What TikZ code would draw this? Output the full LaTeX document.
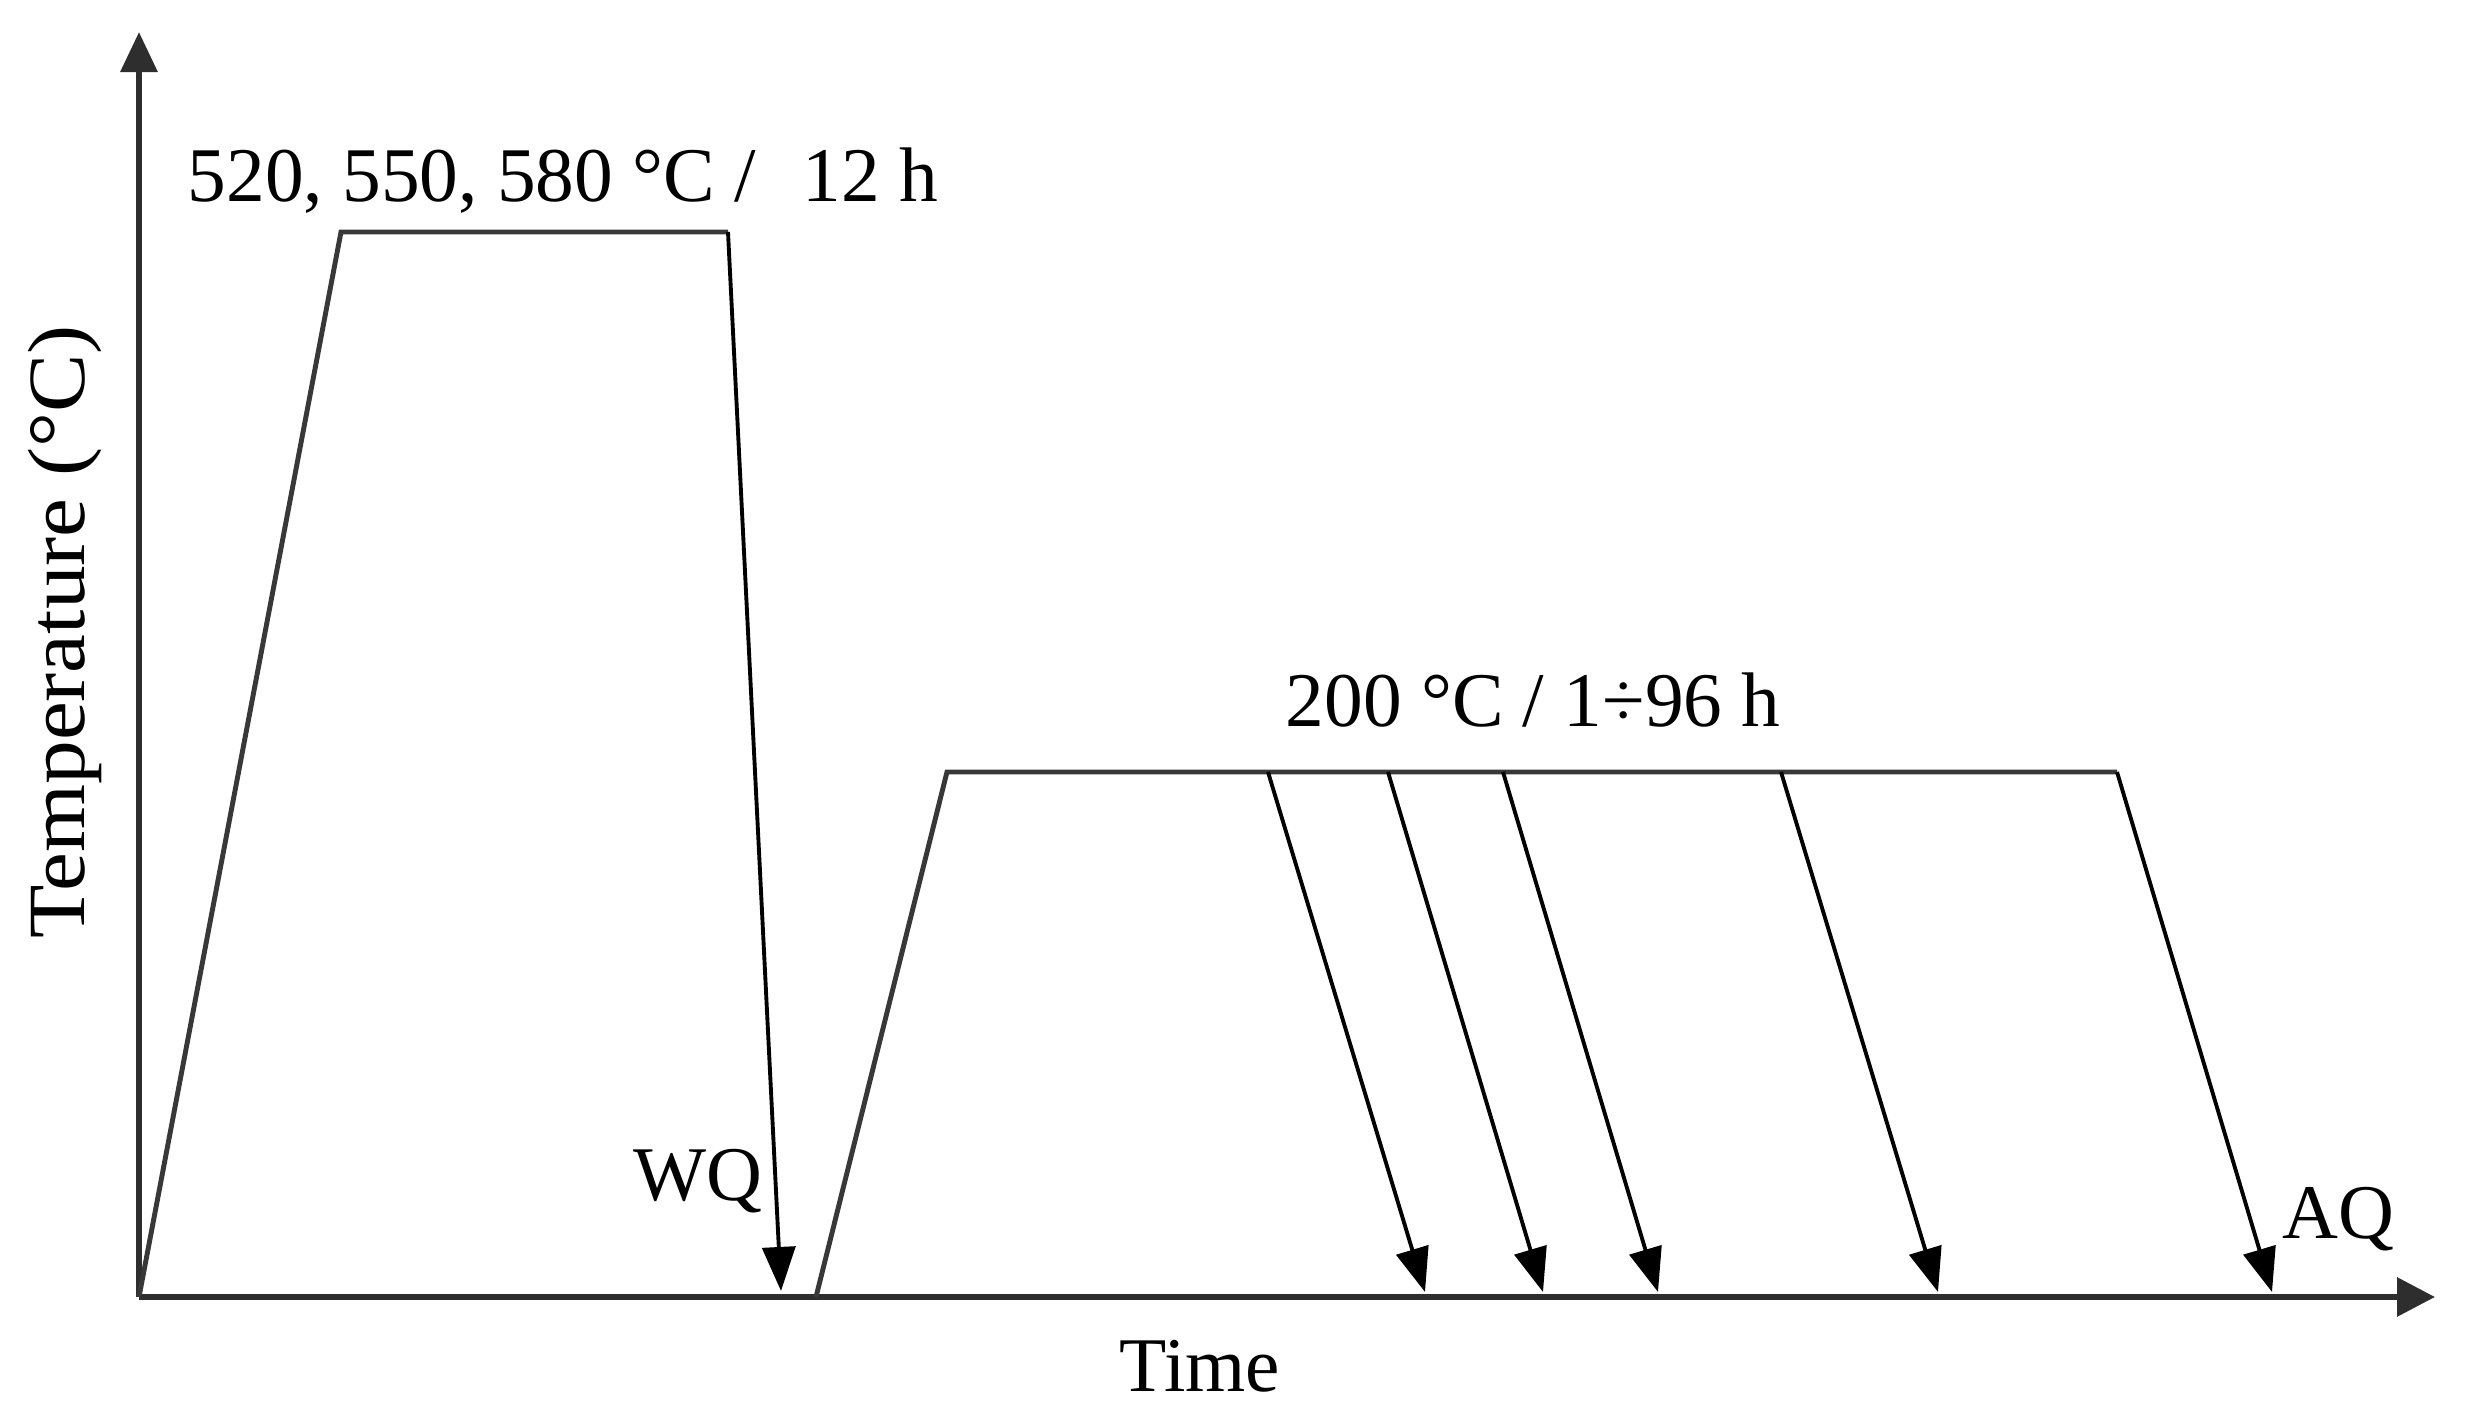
\documentclass[tikz,border=0pt]{standalone}
\usepackage{fontspec}
\setmainfont{Liberation Serif}
\usetikzlibrary{arrows.meta}
\begin{document}
\begin{tikzpicture}[x=0.01cm,y=-0.01cm,
  lbl/.style={inner sep=0pt,font=\fontsize{22}{26}\selectfont},
  axisline/.style={line width=1.8pt,draw=black!82},
  profile/.style={line width=1.4pt,draw=black!78,line join=miter},
  cool/.style={line width=1.1pt,draw=black,-{Triangle[length=0.44cm,width=0.33cm]}},
]
\useasboundingbox (0,0) rectangle (2466,1419);
% key points
\coordinate (O) at (139,1297);
\coordinate (ytip) at (139,32);
\coordinate (xtip) at (2435,1297);
\coordinate (A1) at (341,232);
\coordinate (A2) at (728,232);
\coordinate (WQt) at (781,1291);
\coordinate (B0) at (816,1297);
\coordinate (B1) at (947,772);
\coordinate (B2) at (2117,772);
\coordinate (AQt) at (2272,1292);
\coordinate (s1) at (1268,772); \coordinate (t1) at (1425,1292);
\coordinate (s2) at (1388,772); \coordinate (t2) at (1543,1292);
\coordinate (s3) at (1503,772); \coordinate (t3) at (1658,1292);
\coordinate (s4) at (1781,772); \coordinate (t4) at (1938,1292);
% axes
\draw[axisline,-{Triangle[length=0.40cm,width=0.36cm]}] (O) -- (ytip);
\draw[axisline,-{Triangle[length=0.38cm,width=0.38cm]}] (O) -- (xtip);
% solution treatment
\draw[profile] (O) -- (A1) -- (A2);
\draw[cool] (A2) -- (WQt);
% ageing
\draw[profile] (B0) -- (B1) -- (B2);
\draw[cool] (B2) -- (AQt);
\draw[cool] (s1) -- (t1);
\draw[cool] (s2) -- (t2);
\draw[cool] (s3) -- (t3);
\draw[cool] (s4) -- (t4);
% labels
\node[lbl,anchor=base west] (sol) at (187,202) {520, 550, 580 °C /\hspace{0.6em}12 h};
\node[lbl,anchor=base west] (age) at (1285,727) {200 °C / 1÷96 h};
\node[lbl,anchor=base west] (wq) at (633,1200) {WQ};
\node[lbl,anchor=base west] (aq) at (2282,1238) {AQ};
\node[lbl,anchor=base west] (time) at (1119,1391) {Time};
\node[lbl,anchor=base,rotate=90] (temp) at (84,632) {\scalebox{1.13}[1.05]{Temperature (°C)}};
\end{tikzpicture}
\end{document}
